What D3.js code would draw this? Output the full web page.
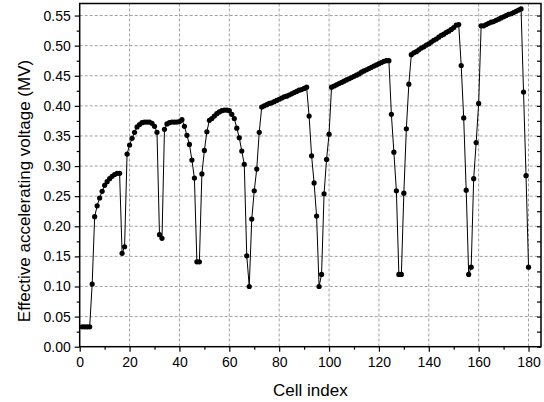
<!DOCTYPE html>
<html>
<head>
<meta charset="utf-8">
<script src="https://cdn.jsdelivr.net/npm/d3@7"></script>
<style>
  body { margin: 0; background: #fff; }
  text { font-family: "Liberation Sans", Arial, sans-serif; fill: #000; }
</style>
</head>
<body>
<div id="chart"></div>
<script>
// effective accelerating voltage (MV) per cell, cells 1..180
var voltage = [
  0.033, 0.033, 0.033, 0.033, 0.104, 0.216, 0.234, 0.247, 0.258, 0.268,
  0.274, 0.279, 0.283, 0.286, 0.288, 0.288, 0.155, 0.166, 0.320, 0.335,
  0.346, 0.356, 0.365, 0.369, 0.372, 0.373, 0.373, 0.373, 0.371, 0.366,
  0.356, 0.186, 0.180, 0.361, 0.370, 0.372, 0.373, 0.373, 0.373, 0.374,
  0.377, 0.366, 0.351, 0.336, 0.310, 0.280, 0.141, 0.141, 0.287, 0.326,
  0.357, 0.376, 0.379, 0.383, 0.387, 0.390, 0.392, 0.393, 0.393, 0.392,
  0.386, 0.379, 0.363, 0.347, 0.325, 0.303, 0.151, 0.100, 0.212, 0.259,
  0.295, 0.356, 0.398, 0.400, 0.402, 0.404, 0.405, 0.407, 0.409, 0.411,
  0.413, 0.415, 0.416, 0.418, 0.420, 0.422, 0.424, 0.426, 0.427, 0.429,
  0.431, 0.383, 0.317, 0.272, 0.217, 0.100, 0.120, 0.254, 0.311, 0.353,
  0.431, 0.433, 0.435, 0.437, 0.439, 0.441, 0.443, 0.445, 0.447, 0.449,
  0.451, 0.453, 0.456, 0.458, 0.460, 0.462, 0.464, 0.466, 0.468, 0.470,
  0.472, 0.474, 0.475, 0.475, 0.386, 0.323, 0.259, 0.120, 0.120, 0.255,
  0.362, 0.436, 0.485, 0.488, 0.490, 0.493, 0.496, 0.498, 0.501, 0.503,
  0.506, 0.509, 0.511, 0.514, 0.517, 0.519, 0.522, 0.524, 0.527, 0.530,
  0.534, 0.535, 0.467, 0.380, 0.260, 0.120, 0.132, 0.279, 0.339, 0.404,
  0.533, 0.533, 0.535, 0.537, 0.539, 0.540, 0.542, 0.544, 0.546, 0.548,
  0.550, 0.552, 0.553, 0.555, 0.557, 0.559, 0.561, 0.423, 0.284, 0.132
];
var cellIndex = d3.range(1, voltage.length + 1);

var xTicks = [0, 20, 40, 60, 80, 100, 120, 140, 160, 180];
var xMinor = [10, 30, 50, 70, 90, 110, 130, 150, 170];
var yTicks = [0, 0.05, 0.10, 0.15, 0.20, 0.25, 0.30, 0.35, 0.40, 0.45, 0.50, 0.55];
var yMinor = [0.025, 0.075, 0.125, 0.175, 0.225, 0.275, 0.325, 0.375, 0.425, 0.475, 0.525];

var data = cellIndex.map(function (c, i) { return { cell: c, v: voltage[i] }; });

var W = 544, H = 402;
var plot = { left: 79.7, right: 541, top: 3.5, bottom: 346.7 };

var svg = d3.select("#chart").append("svg")
  .attr("width", W)
  .attr("height", H);

var x = d3.scaleLinear().domain([0, 185]).range([plot.left, plot.right]);
var y = d3.scaleLinear().domain([0, 0.57]).range([plot.bottom, plot.top]);

// dashed grid
svg.append("g")
  .selectAll("line")
  .data(xTicks.filter(function (d) { return d > 0; }))
  .enter().append("line")
  .attr("x1", function (d) { return x(d); })
  .attr("x2", function (d) { return x(d); })
  .attr("y1", plot.top)
  .attr("y2", plot.bottom)
  .style("stroke", "#a0a0a0")
  .style("stroke-dasharray", "3,2")
  .style("stroke-width", 1);

svg.append("g")
  .selectAll("line")
  .data(yTicks.filter(function (d) { return d > 0; }))
  .enter().append("line")
  .attr("x1", plot.left)
  .attr("x2", plot.right)
  .attr("y1", function (d) { return y(d); })
  .attr("y2", function (d) { return y(d); })
  .style("stroke", "#a0a0a0")
  .style("stroke-dasharray", "3,2")
  .style("stroke-width", 1);

// bottom axis
var xAxis = svg.append("g")
  .attr("transform", "translate(0," + plot.bottom + ")")
  .call(d3.axisBottom(x).tickValues(xTicks).tickFormat(d3.format("d")).tickSize(5).tickSizeOuter(0));
xAxis.select(".domain").remove();
xAxis.selectAll("text").style("font-size", "14px").attr("y", 8).attr("dy", "0.9em");
xAxis.selectAll("line").style("stroke-width", 1.2);

svg.append("g")
  .attr("transform", "translate(0," + plot.bottom + ")")
  .call(d3.axisBottom(x).tickValues(xMinor).tickFormat("").tickSize(3).tickSizeOuter(0))
  .call(function (g) { g.select(".domain").remove(); g.selectAll("line").style("stroke-width", 1.2); });

// left axis
var yAxis = svg.append("g")
  .attr("transform", "translate(" + plot.left + ",0)")
  .call(d3.axisLeft(y).tickValues(yTicks).tickFormat(d3.format(".2f")).tickSize(5).tickSizeOuter(0));
yAxis.select(".domain").remove();
yAxis.selectAll("text").style("font-size", "14px").attr("x", -9);
yAxis.selectAll("line").style("stroke-width", 1.2);

svg.append("g")
  .attr("transform", "translate(" + plot.left + ",0)")
  .call(d3.axisLeft(y).tickValues(yMinor).tickFormat("").tickSize(3).tickSizeOuter(0))
  .call(function (g) { g.select(".domain").remove(); g.selectAll("line").style("stroke-width", 1.2); });

// right side inward ticks
svg.append("g")
  .attr("transform", "translate(" + plot.right + ",0)")
  .call(d3.axisLeft(y).tickValues(yTicks.concat(yMinor)).tickFormat("").tickSize(4).tickSizeOuter(0))
  .call(function (g) { g.select(".domain").remove(); g.selectAll("line").style("stroke-width", 1.2); });

// frame
svg.append("rect")
  .attr("x", plot.left)
  .attr("y", plot.top)
  .attr("width", plot.right - plot.left)
  .attr("height", plot.bottom - plot.top)
  .style("fill", "none")
  .style("stroke", "#000")
  .style("stroke-width", 1.5);

// line + dots
var line = d3.line()
  .x(function (d) { return x(d.cell); })
  .y(function (d) { return y(d.v); });

svg.append("path")
  .datum(data)
  .attr("d", line)
  .style("fill", "none")
  .style("stroke", "#000")
  .style("stroke-width", 1);

svg.append("g")
  .selectAll("circle")
  .data(data)
  .enter().append("circle")
  .attr("cx", function (d) { return x(d.cell); })
  .attr("cy", function (d) { return y(d.v); })
  .attr("r", 2.6)
  .style("fill", "#000");

// axis titles
svg.append("text")
  .attr("x", (plot.left + plot.right) / 2)
  .attr("y", 396)
  .attr("text-anchor", "middle")
  .style("font-size", "17px")
  .text("Cell index");

svg.append("text")
  .attr("transform", "translate(30,191)rotate(-90)")
  .attr("text-anchor", "middle")
  .style("font-size", "17px")
  .text("Effective accelerating voltage (MV)");
</script>
</body>
</html>
